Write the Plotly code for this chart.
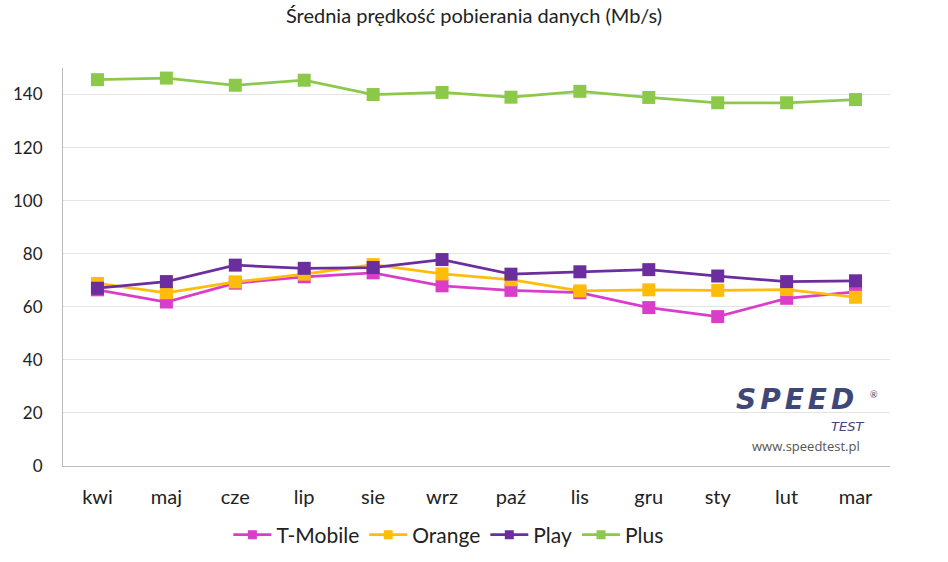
import plotly.graph_objects as go

months = ["kwi", "maj", "cze", "lip", "sie", "wrz", "paź", "lis", "gru", "sty", "lut", "mar"]
tmobile = [66.4, 61.8, 68.9, 71.3, 72.8, 67.9, 66.2, 65.3, 59.7, 56.3, 63.2, 65.6]
orange = [68.8, 65.3, 69.4, 72.3, 75.9, 72.4, 70.2, 66.0, 66.4, 66.2, 66.5, 63.6]
play = [67.0, 69.5, 75.7, 74.5, 74.8, 77.8, 72.3, 73.2, 74.0, 71.6, 69.5, 69.8]
plus = [145.6, 146.2, 143.5, 145.4, 140.0, 140.8, 139.0, 141.2, 138.9, 136.9, 136.9, 138.1]

series = [
    ("T-Mobile", tmobile, "#DA3DCA"),
    ("Orange", orange, "#FFBD0A"),
    ("Play", play, "#6C2E9E"),
    ("Plus", plus, "#8CC94A"),
]

fig = go.Figure()
for name, vals, col in series:
    fig.add_trace(go.Scatter(
        x=months, y=vals, name=name, mode="lines+markers", showlegend=False,
        line=dict(color=col, width=2.75),
        marker=dict(symbol="square", size=13, color=col),
    ))
for name, vals, col in series:
    fig.add_trace(go.Scatter(
        x=[None], y=[None], name=name, mode="lines+markers", showlegend=True,
        line=dict(color=col, width=2.75),
        marker=dict(symbol="square", size=9, color=col),
    ))

fig.update_layout(
    width=948, height=562,
    margin=dict(l=63, r=58, t=68, b=96, autoexpand=False),
    paper_bgcolor="white", plot_bgcolor="white",
    font=dict(family="Lato, Open Sans, sans-serif", color="#222222"),
    title=dict(text="Średnia prędkość pobierania danych (Mb/s)", x=0.5, xanchor="center",
               y=0.972, yanchor="middle", font=dict(size=20, color="#222222")),
    showlegend=True,
    legend=dict(orientation="h", x=0.466, xanchor="center", yref="container", y=0.048,
                yanchor="middle", font=dict(size=21, color="#222222"), tracegroupgap=0,
                itemwidth=38),
    xaxis=dict(range=[-0.5, 11.5], showgrid=False, showline=True, linecolor="#BBBBBB",
               linewidth=1, ticks="", tickfont=dict(size=20, color="#222222"),
               ticklabelstandoff=13, automargin=False),
    yaxis=dict(range=[0, 150], tickvals=[0, 20, 40, 60, 80, 100, 120, 140], showgrid=True,
               gridcolor="#E4E4E4", gridwidth=1, showline=True, linecolor="#BBBBBB", linewidth=1,
               ticks="", tickfont=dict(size=17, color="#222222"), ticklabelstandoff=16,
               zeroline=False, automargin=False),
)

logo = "#3F4779"
fig.add_annotation(xref="paper", yref="paper", x=0.888, y=0.168, xanchor="center",
                   yanchor="middle", borderpad=0,
                   text="<span style='letter-spacing:4px'><b><i>SPEED</i></b></span>",
                   showarrow=False, font=dict(size=28, color=logo, family="DejaVu Sans"))
fig.add_annotation(xref="paper", yref="paper", x=0.949, y=0.098, xanchor="center",
                   yanchor="middle", borderpad=0, text="<i>TEST</i>",
                   showarrow=False, font=dict(size=13, color=logo, family="DejaVu Sans"))
fig.add_annotation(xref="paper", yref="paper", x=0.981, y=0.18, xanchor="center",
                   yanchor="middle", borderpad=0, text="®",
                   showarrow=False, font=dict(size=9, color=logo))
fig.add_annotation(xref="paper", yref="paper", x=0.898, y=0.050, xanchor="center",
                   yanchor="middle", borderpad=0, text="www.speedtest.pl",
                   showarrow=False, font=dict(size=13, color="#555555", family="Open Sans"))

fig.write_html("out.html")
